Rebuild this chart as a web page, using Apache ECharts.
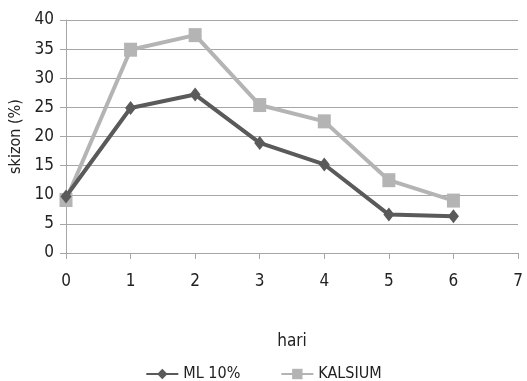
<!DOCTYPE html>
<html><head><meta charset="utf-8">
<script src="https://cdn.jsdelivr.net/npm/echarts@6/dist/echarts.min.js"></script>
<style>html,body{margin:0;padding:0;background:#fff}#c{width:527px;height:381px}</style>
</head><body><div id="c"></div>
<script>
const days = [0, 1, 2, 3, 4, 5, 6];
const ml10 = [9.7, 24.9, 27.2, 18.9, 15.2, 6.6, 6.3];
const kalsium = [9.1, 34.9, 37.4, 25.4, 22.6, 12.5, 9.0];
const seriesNames = ['ML 10%', 'KALSIUM'];
const xName = 'hari';
const yName = 'skizon (%)';

const font = '"Liberation Sans Narrow", "DejaVu Sans Condensed", "Liberation Sans", sans-serif';
const pair = (xs, ys) => xs.map((x, i) => [x, ys[i]]);
const chart = echarts.init(document.getElementById('c'));
chart.setOption({
  animation: false,
  textStyle: { fontFamily: font },
  grid: { left: 66, right: 9, top: 20, bottom: 128, containLabel: false, outerBoundsMode: 'none' },
  legend: {
    top: 361, left: 'center', itemWidth: 32, itemHeight: 13, itemGap: 40,
    textStyle: { fontFamily: font, fontSize: 16, color: '#222' },
    data: seriesNames
  },
  xAxis: {
    type: 'value', min: 0, max: 7, interval: 1,
    name: xName, nameLocation: 'middle', nameGap: 80,
    nameTextStyle: { fontFamily: font, fontSize: 17, color: '#222' },
    axisLine: { show: true, lineStyle: { color: '#a6a6a6', width: 1 } },
    axisTick: { show: true, length: 6, lineStyle: { color: '#a6a6a6' } },
    axisLabel: { fontFamily: font, fontSize: 17, color: '#222', margin: 20 },
    splitLine: { show: false }
  },
  yAxis: {
    type: 'value', min: 0, max: 40, interval: 5,
    name: yName, nameLocation: 'middle', nameGap: 41, nameRotate: 90,
    nameTextStyle: { fontFamily: font, fontSize: 16, color: '#222' },
    axisLine: { show: true, lineStyle: { color: '#a6a6a6', width: 1 } },
    axisTick: { show: true, length: 6, lineStyle: { color: '#a6a6a6' } },
    axisLabel: { fontFamily: font, fontSize: 17, color: '#222', margin: 12 },
    splitLine: { show: true, lineStyle: { color: '#a6a6a6', width: 1 } }
  },
  series: [
    {
      name: seriesNames[0], type: 'line', data: pair(days, ml10),
      symbol: 'diamond', symbolSize: [11, 14],
      lineStyle: { color: '#5a5a5a', width: 4 },
      itemStyle: { color: '#5a5a5a' }, z: 3
    },
    {
      name: seriesNames[1], type: 'line', data: pair(days, kalsium),
      symbol: 'rect', symbolSize: [13, 14],
      lineStyle: { color: '#b4b4b4', width: 4 },
      itemStyle: { color: '#b4b4b4' }, z: 2
    }
  ]
});
</script></body></html>
